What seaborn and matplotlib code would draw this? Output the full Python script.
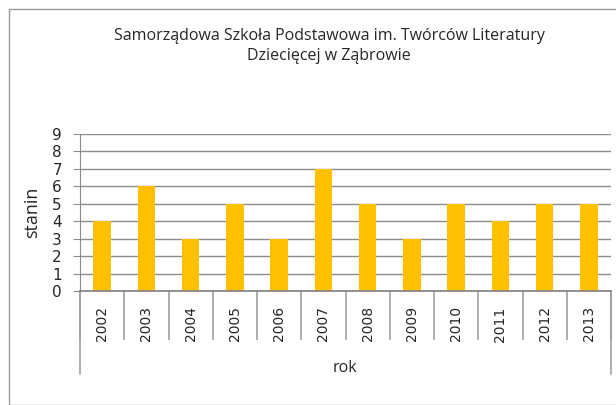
import matplotlib
matplotlib.use("Agg")
import matplotlib.pyplot as plt
import matplotlib.patches as mpatches
import seaborn as sns
import pandas as pd

# data
years = ["2002", "2003", "2004", "2005", "2006", "2007",
         "2008", "2009", "2010", "2011", "2012", "2013"]
stanin = [4, 6, 3, 5, 3, 7, 5, 3, 5, 4, 5, 5]
y_ticks = list(range(0, 10))

title = "Samorządowa Szkoła Podstawowa im. Twórców Literatury\nDziecięcej w Ząbrowie"

df = pd.DataFrame({"rok": years, "stanin": stanin})

sns.set_style("white")
plt.rcParams["font.family"] = ["Open Sans", "DejaVu Sans"]

W, H = 616, 405
fig = plt.figure(figsize=(W / 100, H / 100), dpi=100)
ax = fig.add_axes([80 / W, 1 - 291 / H, (611 - 80) / W, (291 - 134) / H])

sns.barplot(data=df, x="rok", y="stanin", color="#FFC000", width=0.4,
            saturation=1, linewidth=0, ax=ax)

grid_c = "#8c8c8c"
ax.set_ylim(0, 9)
ax.set_xlim(-0.5, len(years) - 0.5)
ax.set_yticks(y_ticks, labels=[str(v) for v in y_ticks],
              family="DejaVu Sans", fontsize=11)
ax.set_xticks(range(len(years)), labels=years, family="DejaVu Sans",
              fontsize=10, rotation=90)
ax.yaxis.grid(True, color=grid_c, linewidth=1)
ax.set_axisbelow(True)
for s in ["top", "right"]:
    ax.spines[s].set_visible(False)
ax.spines["left"].set_color(grid_c)
ax.spines["bottom"].set_color("#7f7f7f")
ax.spines["bottom"].set_linewidth(1.2)

ax.tick_params(axis="y", length=5, color=grid_c, pad=8, left=True)
ax.tick_params(axis="x", which="major", length=0, pad=11)
# category separators below the axis
ax.set_xticks([i - 0.5 for i in range(len(years) + 1)], minor=True)
ax.tick_params(axis="x", which="minor", length=35, color="#a0a0a0",
               width=1.2, bottom=True)

ax.set_ylabel("stanin", fontsize=13, labelpad=8)
ax.set_xlabel("")
fig.text(345 / W, 1 - 368 / H, "rok", ha="center", va="center", fontsize=11.5)

# outer lines of the category axis box
for xa in (0, 1):
    ax.plot([xa, xa], [0, -(374 - 291) / (291 - 134)], transform=ax.transAxes,
            color="#a0a0a0", linewidth=1.2, clip_on=False)

fig.text(329 / W, 1 - 46 / H, title, ha="center", va="center",
         fontsize=11.5, linespacing=1.35)

fig.patches.append(mpatches.Rectangle((9 / W, 0), 1, 1 - 9 / H,
                   transform=fig.transFigure, fill=False,
                   edgecolor="#9a9a9a", linewidth=1))

fig.savefig("out.png", dpi=100)
